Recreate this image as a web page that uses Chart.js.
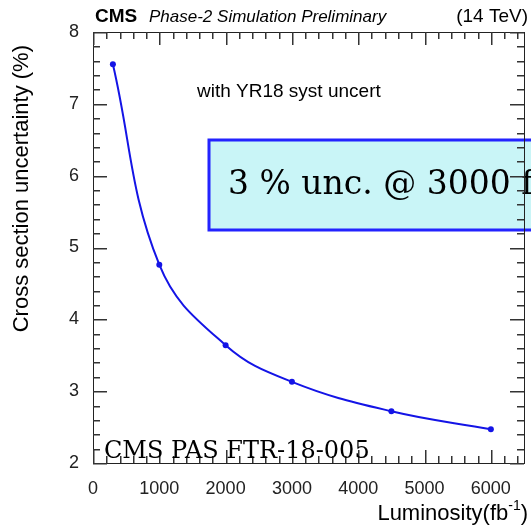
<!DOCTYPE html>
<html>
<head>
<meta charset="utf-8">
<script src="https://cdn.jsdelivr.net/npm/chart.js@4/dist/chart.umd.min.js"></script>
<style>
  html, body { margin: 0; padding: 0; background: #fff; }
  canvas { display: block; }
</style>
</head>
<body>
<canvas id="c" width="531" height="528"></canvas>
<script>
// values
const luminosity = [300, 1000, 2000, 3000, 4500, 6000];
const uncertainty = [7.55, 4.76, 3.64, 3.13, 2.72, 2.47];
const xTicks = [0, 1000, 2000, 3000, 4000, 5000, 6000];
const yTicks = [2, 3, 4, 5, 6, 7, 8];

const sans = '"Liberation Sans", Arial, sans-serif';
const serif = '"DejaVu Serif", serif';

// ROOT style frame with inward ticks on all four sides
const rootFrame = {
    id: 'rootFrame',
    afterDatasetsDraw(chart) {
        const ctx = chart.ctx;
        ctx.save();
        // annotation box, runs off the right edge
        ctx.fillStyle = '#c9f5f7';
        ctx.strokeStyle = '#2323ff';
        ctx.lineWidth = 3;
        ctx.fillRect(209, 140, 340, 90);
        ctx.strokeRect(209, 140, 340, 90);
        ctx.fillStyle = '#000';
        ctx.font = '33px ' + serif;
        ctx.textBaseline = 'alphabetic';
        ctx.fillText('3 % unc. @ 3000 fb\u207B\u00B9', 228, 194);
        ctx.restore();
    },
    afterDraw(chart) {
        const ctx = chart.ctx;
        const a = chart.chartArea;
        const x = chart.scales.x, y = chart.scales.y;
        const L = Math.round(a.left), R = Math.round(a.right);
        const T = Math.round(a.top), B = Math.round(a.bottom);
        ctx.save();
        ctx.fillStyle = '#222';
        // frame
        ctx.fillRect(L, T, R - L + 1, 1);
        ctx.fillRect(L, B, R - L + 1, 1);
        ctx.fillRect(L, T, 1, B - T + 1);
        ctx.fillRect(R, T, 1, B - T + 1);
        // ticks
        ctx.fillStyle = '#333';
        for (let v = 0; v <= 6500; v += 200) {
            const px = Math.round(x.getPixelForValue(v));
            const len = v % 1000 === 0 ? 13 : 7;
            ctx.fillRect(px, B - len, 1.5, len);
            ctx.fillRect(px, T, 1.5, len);
        }
        for (let i = 0; i <= 30; i++) {
            const py = Math.round(y.getPixelForValue(2 + i * 0.2));
            const len = i % 5 === 0 ? 14 : 7;
            ctx.fillRect(L, py, len, 1.5);
            ctx.fillRect(R - len, py, len, 1.5);
        }

        ctx.fillStyle = '#000';
        ctx.textBaseline = 'alphabetic';
        ctx.font = 'bold 19px ' + sans;
        ctx.fillText('CMS', 95, 22);
        ctx.font = 'italic 17px ' + sans;
        ctx.fillText('Phase-2 Simulation Preliminary', 149, 22);
        ctx.font = '19px ' + sans;
        ctx.textAlign = 'right';
        ctx.fillText('(14 TeV)', 528, 22);
        ctx.textAlign = 'left';
        ctx.font = '19px ' + sans;
        ctx.fillText('with YR18 syst uncert', 197, 97);
        ctx.font = '24px ' + serif;
        ctx.fillText('CMS PAS FTR-18-005', 104, 458);

        // axis titles
        ctx.font = '22px ' + sans;
        ctx.textAlign = 'right';
        ctx.fillText(')', 528, 520);
        const wp = ctx.measureText(')').width;
        ctx.font = '14px ' + sans;
        ctx.fillText('-1', 528 - wp, 510);
        const ws = ctx.measureText('-1').width;
        ctx.font = '22px ' + sans;
        ctx.fillText('Luminosity(fb', 528 - wp - ws, 520);

        ctx.translate(28, 45);
        ctx.rotate(-Math.PI / 2);
        ctx.fillText('Cross section uncertainty (%)', 0, 0);
        ctx.restore();
    }
};

new Chart(document.getElementById('c'), {
    type: 'line',
    data: {
        datasets: [{
            data: luminosity.map((v, i) => ({ x: v, y: uncertainty[i] })),
            borderColor: '#1414e6',
            backgroundColor: '#1414e6',
            borderWidth: 2,
            pointRadius: 3,
            pointBorderWidth: 0,
            tension: 0.4,
            fill: false
        }]
    },
    options: {
        responsive: false,
        devicePixelRatio: 1,
        animation: false,
        layout: { padding: { top: 32, right: 7, left: 0, bottom: 0 } },
        plugins: { legend: { display: false }, tooltip: { enabled: false } },
        scales: {
            x: {
                type: 'linear',
                min: 0,
                max: 6500,
                afterBuildTicks: s => { s.ticks = xTicks.map(v => ({ value: v })); },
                afterFit: s => { s.height = 65; },
                grid: { display: false },
                border: { display: false },
                ticks: { color: '#222', padding: 7, maxRotation: 0, callback: v => String(v), font: { family: sans, size: 18 } }
            },
            y: {
                min: 2,
                max: 8,
                afterBuildTicks: s => { s.ticks = yTicks.map(v => ({ value: v })); },
                afterFit: s => { s.width = 93; },
                grid: { display: false },
                border: { display: false },
                ticks: { color: '#222', padding: 6, callback: v => String(v), font: { family: sans, size: 18 } }
            }
        }
    },
    plugins: [rootFrame]
});
</script>
</body>
</html>
